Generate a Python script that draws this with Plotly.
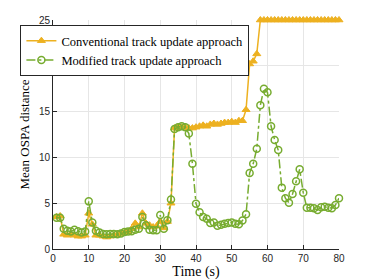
import plotly.graph_objects as go

time_s = list(range(1, 81))

conventional = [3.5, 3.6, 1.6, 1.5, 1.6, 1.5, 1.4, 1.4, 1.5, 3.9,
                2.7, 1.5, 1.5, 1.4, 1.3, 1.4, 1.5, 1.6, 1.7, 1.8,
                1.9, 2.2, 2.8, 2.4, 3.9, 2.8, 2.6, 2.4, 2.5, 3.0,
                2.3, 3.0, 5.0, 13.2, 13.3, 13.3, 13.3, 13.2, 13.2, 13.3,
                13.4, 13.5, 13.4, 13.6, 13.7, 13.6, 13.7, 13.8, 13.8, 13.9,
                13.8, 14.0, 14.0, 15.2, 20.2, 20.5, 21.3, 25.0, 25.0, 25.0,
                25.0, 25.0, 25.0, 25.0, 25.0, 25.0, 25.0, 25.0, 25.0, 25.0,
                25.0, 25.0, 25.0, 25.0, 25.0, 25.0, 25.0, 25.0, 25.0, 25.0]

modified = [3.4, 3.4, 2.2, 2.0, 1.9, 2.1, 1.95, 1.8, 1.9, 5.2,
            2.9, 2.0, 1.8, 1.65, 1.6, 1.65, 1.65, 1.6, 1.7, 1.85,
            1.9, 1.95, 2.1, 2.2, 3.5, 2.6, 2.1, 2.05, 2.05, 3.7,
            2.2, 3.15, 5.4, 13.1, 13.3, 13.4, 13.3, 12.6, 9.3, 4.95,
            4.0, 3.5, 3.3, 2.85, 2.9, 2.55, 2.65, 2.75, 2.85, 2.9,
            2.75, 2.7, 3.1, 3.8, 8.3, 9.3, 10.95, 15.7, 17.5, 17.1,
            13.4, 11.9, 10.8, 6.7, 5.55, 5.05, 6.0, 7.4, 8.7, 6.15,
            4.5, 4.5, 4.45, 4.25, 4.55, 4.6, 4.5, 4.45, 4.8, 5.55]

series_names = ["Conventional track update approach", "Modified track update approach"]
x_ticks = [0, 10, 20, 30, 40, 50, 60, 70, 80]
y_ticks = [0, 5, 10, 15, 20, 25]

orange = "#EDB120"
green = "#77AC30"
serif = "Liberation Serif, Times New Roman, serif"

fig = go.Figure()
fig.add_trace(go.Scatter(
    x=time_s, y=conventional, name=series_names[0], mode="lines+markers",
    line=dict(color=orange, width=1.5),
    marker=dict(symbol="triangle-up", size=7, color=orange,
                line=dict(color=orange, width=1)),
    cliponaxis=False,
))
fig.add_trace(go.Scatter(
    x=time_s, y=modified, name=series_names[1], mode="lines+markers",
    line=dict(color=green, width=1.5, dash="dashdot"),
    marker=dict(symbol="circle-open", size=7, color=green,
                line=dict(color=green, width=1.5)),
    cliponaxis=False,
))

axis_common = dict(
    showgrid=True, gridcolor="#e6e6e6", gridwidth=1,
    showline=True, linecolor="#262626", linewidth=1,
    ticks="inside", ticklen=4, tickcolor="#262626",
    tickfont=dict(family="Liberation Sans", size=10, color="#262626"),
    zeroline=False, automargin=False,
)

# page body has an 8px margin, so the figure is sized to fit inside the window
fig.update_layout(
    width=366, height=272,
    margin=dict(l=41, r=35, t=12, b=31),
    paper_bgcolor="white", plot_bgcolor="white",
    showlegend=True,
    legend=dict(
        x=-0.114, y=0.978, xanchor="left", yanchor="top",
        bgcolor="white", bordercolor="#262626", borderwidth=1,
        font=dict(family=serif, size=12.5, color="#000000"),
        tracegroupgap=0, itemwidth=30,
    ),
    xaxis=dict(range=[0, 80], tickvals=x_ticks,
               title=dict(text="Time (s)", standoff=2,
                          font=dict(family=serif, size=14, color="#000000")),
               **axis_common),
    yaxis=dict(range=[0, 25], tickvals=y_ticks,
               title=dict(text="Mean OSPA distance", standoff=6,
                          font=dict(family=serif, size=13, color="#000000")),
               **axis_common),
)

fig.write_html("out.html")
